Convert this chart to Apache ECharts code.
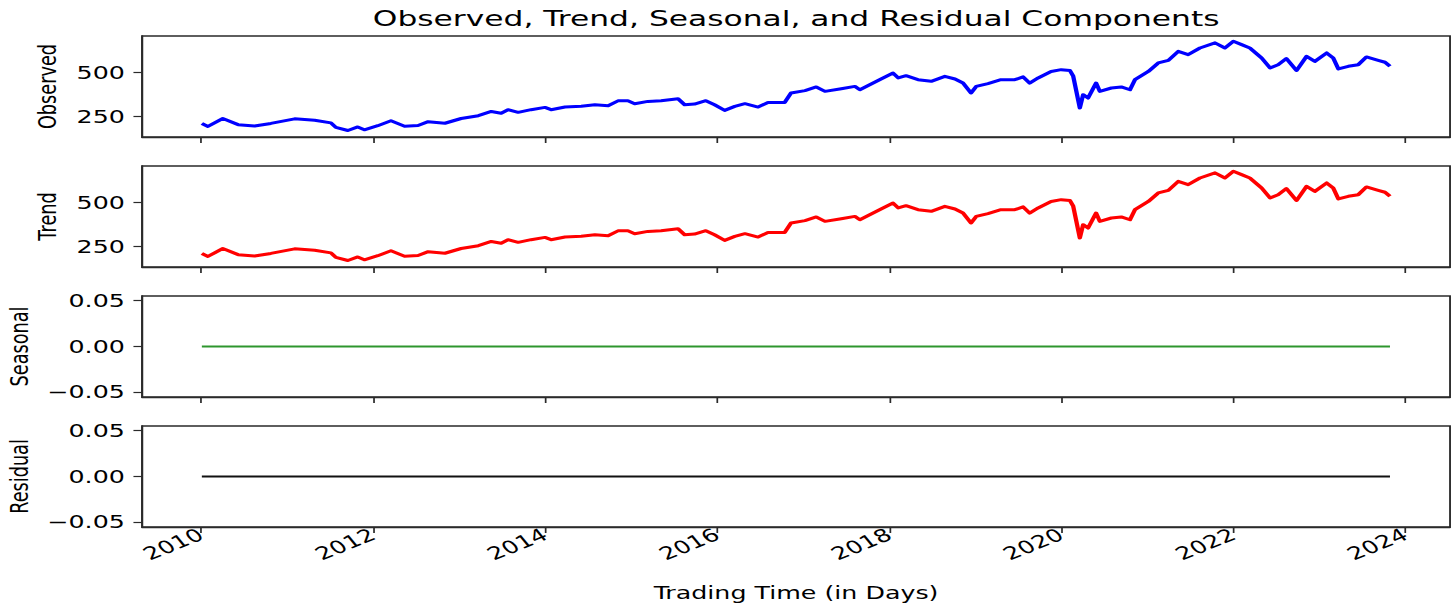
<!DOCTYPE html>
<html>
<head>
<meta charset="utf-8">
<script src="https://cdn.jsdelivr.net/npm/echarts@6/dist/echarts.min.js"></script>
<style>
  html, body { margin: 0; padding: 0; background: #fff; }
  #wrap { width: 1456px; height: 608px; overflow: hidden; position: relative; }
  #chart { width: 1018px; height: 608px; transform: scaleX(1.4303); transform-origin: 0 0; }
</style>
</head>
<body>
<div id="wrap"><div id="chart"></div></div>
<script>
// ---- data ----
const titleText = 'Observed, Trend, Seasonal, and Residual Components';
const xAxisTitle = 'Trading Time (in Days)';
const panelNames = ['Observed', 'Trend', 'Seasonal', 'Residual'];
const tickYears = [2010, 2012, 2014, 2016, 2018, 2020, 2022, 2024];
const priceTicks = [250, 500];
const componentTicks = [-0.05, 0, 0.05];

const dates = [
  '2010-01-04','2010-01-30','2010-04-03','2010-06-07','2010-08-16','2010-10-24',
  '2011-02-02','2011-04-28','2011-07-06','2011-07-27','2011-09-16','2011-10-28','2011-11-25',
  '2012-01-21','2012-03-17','2012-05-14','2012-07-10','2012-08-22','2012-11-01',
  '2013-01-09','2013-03-23','2013-05-17','2013-06-28','2013-07-27','2013-09-08','2013-11-02','2013-12-31',
  '2014-01-26','2014-03-26','2014-06-03','2014-07-31','2014-09-25','2014-11-06','2014-12-18',
  '2015-01-16','2015-03-13','2015-05-08','2015-07-19','2015-08-16','2015-09-27','2015-11-14','2015-12-21',
  '2016-02-02','2016-03-16','2016-04-28','2016-06-23','2016-08-04','2016-10-14','2016-11-10',
  '2017-01-08','2017-02-25','2017-04-03','2017-06-11','2017-08-08','2017-08-29','2017-11-27',
  '2018-01-17','2018-02-08','2018-03-13','2018-05-03','2018-06-28','2018-08-25','2018-10-07','2018-11-10','2018-12-14',
  '2019-01-05','2019-02-24','2019-04-20','2019-06-18','2019-07-23','2019-08-20','2019-09-25','2019-11-19',
  '2020-01-01','2020-02-07','2020-02-21','2020-03-20','2020-04-03','2020-04-24','2020-05-28','2020-06-13',
  '2020-08-01','2020-09-12','2020-10-19','2020-11-09',
  '2021-01-05','2021-02-16','2021-03-31','2021-05-12','2021-06-23','2021-08-12','2021-10-15','2021-11-26',
  '2022-01-01','2022-02-05','2022-03-12','2022-05-01','2022-06-06','2022-07-10','2022-08-14','2022-09-26',
  '2022-11-08','2022-12-13',
  '2023-02-01','2023-03-01','2023-03-23','2023-05-04','2023-06-15','2023-07-20','2023-09-08','2023-10-07','2023-10-28'
];
const observedValues = [
  212,195,240,205,197,212,
  238,230,215,190,172,192,176,
  199,227,196,200,222,213,
  240,256,280,270,290,275,290,303,
  290,305,309,318,312,340,341,
  324,337,341,352,318,322,341,318,
  286,309,324,305,331,331,385,
  398,419,394,409,422,403,464,
  498,470,483,460,451,479,464,441,385,
  422,438,460,460,476,441,470,507,
  517,512,480,300,375,356,441,394,
  413,419,403,460,
  507,555,570,621,602,640,669,640,
  678,659,640,583,527,545,580,512,
  593,564,
  612,583,521,536,545,589,570,559,536
];
// the trend panel in the reference traces the same curve as the observed one
const trendValues = [
  212,195,240,205,197,212,
  238,230,215,190,172,192,176,
  199,227,196,200,222,213,
  240,256,280,270,290,275,290,303,
  290,305,309,318,312,340,341,
  324,337,341,352,318,322,341,318,
  286,309,324,305,331,331,385,
  398,419,394,409,422,403,464,
  498,470,483,460,451,479,464,441,385,
  422,438,460,460,476,441,470,507,
  517,512,480,300,375,356,441,394,
  413,419,403,460,
  507,555,570,621,602,640,669,640,
  678,659,640,583,527,545,580,512,
  593,564,
  612,583,521,536,545,589,570,559,536
];
const flatDates = ['2010-01-04', '2023-10-28'];
const seasonalValues = [0, 0];
const residualValues = [0, 0];

// ---- chart ----
const FONT = 'DejaVu Sans';
function ts(s) { const p = s.split('-').map(Number); return new Date(p[0], p[1] - 1, p[2]).getTime(); }
const tickTs = tickYears.map(y => new Date(y, 0, 1).getTime());
const xMin = ts('2009-04-25');
const xMax = ts('2024-07-09');

const gridTops = [36, 166, 296, 426];
const grids = gridTops.map(t => ({
  left: 99.3, right: 4.2, top: t, height: 101,
  outerBoundsMode: 'none', containLabel: false,
  show: true, borderColor: '#2a2a2a', borderWidth: 1.3, backgroundColor: 'transparent'
}));

const xAxes = gridTops.map((t, i) => ({
  type: 'value', gridIndex: i, min: xMin, max: xMax,
  axisLine: { show: true, onZero: false, lineStyle: { color: '#2a2a2a', width: 1.3 } },
  axisTick: { show: true, customValues: tickTs, length: 6, lineStyle: { color: '#2a2a2a', width: 1.2 } },
  axisLabel: {
    show: i === 3, customValues: tickTs, rotate: 30, margin: 6,
    fontFamily: FONT, fontSize: 17.7, color: '#000',
    formatter: v => String(new Date(v).getFullYear())
  },
  splitLine: { show: false },
  name: i === 3 ? xAxisTitle : '',
  nameLocation: 'middle', nameGap: 57,
  nameTextStyle: { fontFamily: FONT, fontSize: 17.7, color: '#000' }
}));

function fmtComp(v) {
  if (Math.abs(v) < 1e-9) return '0.00';
  return (v < 0 ? '\u2212' : '') + Math.abs(v).toFixed(2);
}

const yAxes = gridTops.map((t, i) => {
  const price = i < 2;
  const ticks = price ? priceTicks : componentTicks;
  return {
    type: 'value', gridIndex: i,
    min: price ? 135 : -0.055, max: price ? 708 : 0.055,
    axisLine: { show: true, onZero: false, lineStyle: { color: '#2a2a2a', width: 1.3 } },
    axisTick: { show: true, customValues: ticks, length: 6, lineStyle: { color: '#2a2a2a', width: 1.2 } },
    axisLabel: {
      customValues: ticks, margin: 12,
      fontFamily: FONT, fontSize: 17.7, color: '#000',
      formatter: price ? (v => String(v)) : fmtComp
    },
    splitLine: { show: false },
    name: panelNames[i], nameLocation: 'middle', nameRotate: 90,
    nameGap: price ? 57 : 76,
    nameTextStyle: { fontFamily: FONT, fontSize: 17.7, color: '#000' }
  };
});

function pairs(xs, ys) { return xs.map((d, k) => [ts(d), ys[k]]); }

const series = [
  { type: 'line', xAxisIndex: 0, yAxisIndex: 0, data: pairs(dates, observedValues), color: '#0000ff' },
  { type: 'line', xAxisIndex: 1, yAxisIndex: 1, data: pairs(dates, trendValues), color: '#ff0000' },
  { type: 'line', xAxisIndex: 2, yAxisIndex: 2, data: pairs(flatDates, seasonalValues), color: '#2e962e' },
  { type: 'line', xAxisIndex: 3, yAxisIndex: 3, data: pairs(flatDates, residualValues), color: '#111111' }
].map((s, i) => Object.assign(s, {
  showSymbol: false, symbol: 'none', silent: true,
  lineStyle: { width: i < 2 ? 3 : (i === 2 ? 1.8 : 2.2), color: s.color, join: 'round' }
}));

const chart = echarts.init(document.getElementById('chart'), null, { renderer: 'svg' });
chart.setOption({
  animation: false,
  backgroundColor: '#fff',
  title: {
    text: titleText, left: 556.6, top: 7, textAlign: 'center', padding: 0,
    textStyle: { fontFamily: FONT, fontSize: 21.9, fontWeight: 'normal', color: '#000' }
  },
  grid: grids,
  xAxis: xAxes,
  yAxis: yAxes,
  series: series
});
</script>
</body>
</html>
